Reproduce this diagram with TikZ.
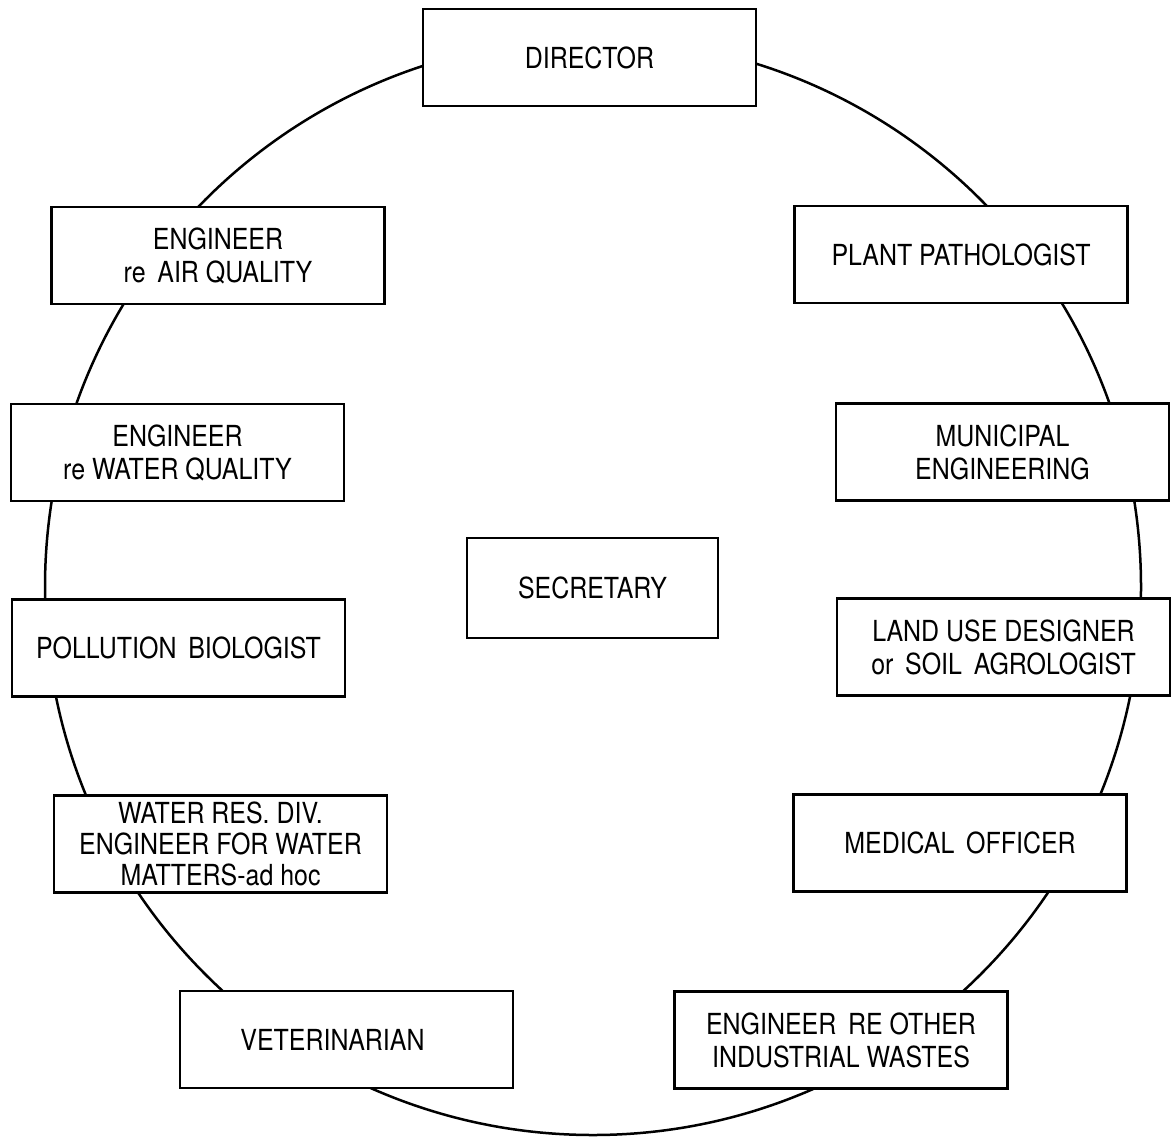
\documentclass[tikz,border=0pt]{standalone}
\usepackage{fontspec}
\setmainfont[FakeStretch=0.86]{TeX Gyre Heros}
\begin{document}
\begin{tikzpicture}[x=1pt,y=-1pt,line width=2.5pt,
    post/.style={draw,fill=white,minimum width=333pt,minimum height=97pt,inner sep=0pt,align=center,
        font=\fontsize{29pt}{33pt}\selectfont}]
\useasboundingbox (0,0) rectangle (1174,1137);
\coordinate (hub) at (593,587);
\draw (hub) circle [radius=548];
\node [post] (director) at (589.5,57.5) {DIRECTOR};
\node [post] (airq) at (218,255.5) {ENGINEER\\re\, AIR QUALITY};
\node [post] (plant) at (961,254.5) {PLANT PATHOLOGIST};
\node [post] (waterq) at (177.5,452.5) {ENGINEER\\re WATER QUALITY};
\node [post] (municipal) at (1002.5,452) {MUNICIPAL\\ENGINEERING};
\node [post,minimum width=251pt,minimum height=100pt] (secretary) at (592.5,588) {SECRETARY};
\node [post] (pollution) at (178.5,648) {POLLUTION\, BIOLOGIST};
\node [post] (landuse) at (1003.5,647) {LAND USE DESIGNER\\or\, SOIL\, AGROLOGIST};
\node [post,font=\fontsize{29pt}{31pt}\selectfont] (waterres) at (220.5,844) {WATER RES. DIV.\\ENGINEER FOR WATER\\MATTERS-ad hoc};
\node [post] (medical) at (960,843) {MEDICAL\, OFFICER};
\node [post] (vet) at (346.5,1039.5) {\hspace*{-28pt}VETERINARIAN};
\node [post] (industrial) at (841,1040) {ENGINEER\, RE OTHER\\INDUSTRIAL WASTES};
\end{tikzpicture}
\end{document}
